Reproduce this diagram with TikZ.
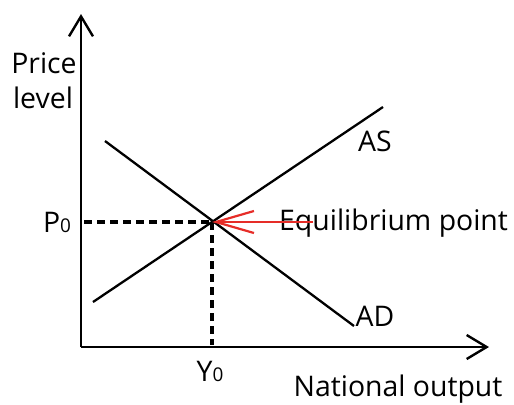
\documentclass[tikz,border=0pt]{standalone}
\usepackage{fontspec}
\setmainfont{Open Sans}
\usetikzlibrary{arrows.meta}
\definecolor{eqred}{RGB}{230,45,40}
\begin{document}
\begin{tikzpicture}[x=1bp,y=-1bp,
  axis/.style={line width=2.4bp,-{Straight Barb[length=20bp,width=24bp,line width=2.4bp]}},
  curve/.style={line width=2.3bp},
  guide/.style={line width=3.5bp,dash pattern=on 8bp off 5bp},
  lbl/.style={font=\fontsize{28.5}{32}\selectfont,inner sep=0pt}]
\useasboundingbox (0,0) rectangle (514,404);
\coordinate (O) at (81,347);
\coordinate (ytip) at (81,14);
\coordinate (xtip) at (489,347);
\coordinate (E) at (212,222);
\coordinate (ASs) at (93,302);
\coordinate (ASe) at (383,107);
\coordinate (ADs) at (105,141);
\coordinate (ADe) at (354,326);
\coordinate (Pax) at (84,222);
\coordinate (Yax) at (212,345);
\coordinate (Rs) at (313,222);
\draw[axis] (O) -- (ytip);
\draw[axis] (O) -- (xtip);
\draw[curve] (ASs) -- (ASe);
\draw[curve] (ADs) -- (ADe);
\draw[guide] (Pax) -- (E);
\draw[guide] (E) -- (Yax);
\node[lbl,anchor=west] (eq) at (279,223) {Equilibrium point};
\draw[eqred,line width=2.2bp,-{Straight Barb[length=38bp,width=22bp,line width=2.2bp]}] (Rs) -- (E);
\node[lbl] (price) at (44,63) {Price};
\node[lbl] (level) at (43,98) {level};
\node[lbl] (AS) at (375,141) {AS};
\node[lbl] (AD) at (375,316) {AD};
\node[lbl] (P0) at (57,222) {P{\fontsize{19}{22}\selectfont 0}};
\node[lbl] (Y0) at (210,371) {Y{\fontsize{19}{22}\selectfont 0}};
\node[lbl] (NO) at (398,389) {National output};
\end{tikzpicture}
\end{document}
